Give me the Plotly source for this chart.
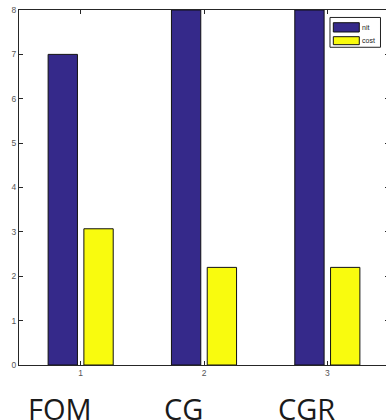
import plotly.graph_objects as go

groups = [1, 2, 3]
group_names = ["FOM", "CG", "CGR"]
series_names = ["nit", "cost"]
nit = [7, 8, 8]
cost = [3.07, 2.2, 2.2]
y_ticks = [0, 1, 2, 3, 4, 5, 6, 7, 8]
colors = ["#35298A", "#F9FB0E"]

fig = go.Figure()
for name, vals, col in zip(series_names, [nit, cost], colors):
    fig.add_trace(go.Bar(x=groups, y=vals, name=name, showlegend=False,
                         marker=dict(color=col, line=dict(color="#111111", width=1))))

# group labels below the axis
for g, name in zip(groups, group_names):
    fig.add_annotation(x=g - 0.17, xref="x", y=-0.1236, yref="paper",
                       text=name, showarrow=False, yanchor="middle", xanchor="center",
                       font=dict(family="Open Sans", size=29, color="#1a1a1a"))

# compact legend box (MATLAB style)
fig.add_shape(type="rect", xref="paper", yref="paper", x0=0.8405, x1=0.9770, y0=0.895, y1=0.979,
              line=dict(color="#222222", width=1), fillcolor="white", layer="above")
legend_rows = [(0.938, 0.9642, 0.951), (0.9023, 0.9248, 0.9135)]
for (y0, y1, yc), name, col in zip(legend_rows, series_names, colors):
    fig.add_shape(type="rect", xref="paper", yref="paper", x0=0.8495, x1=0.9197, y0=y0, y1=y1,
                  line=dict(color="#111111", width=1), fillcolor=col, layer="above")
    fig.add_annotation(x=0.9225, xref="paper", y=yc, yref="paper", text=name, showarrow=False,
                       xanchor="left", yanchor="middle",
                       font=dict(family="Liberation Sans", size=7, color="#222222"))

axis_common = dict(showline=True, linecolor="#262626", linewidth=1, mirror="ticks",
                   ticks="inside", ticklen=4, tickcolor="#262626", showgrid=False,
                   zeroline=False, ticklabeloverflow="allow", automargin=False,
                   tickfont=dict(family="Liberation Sans", size=8.5, color="#555555"))

fig.update_layout(
    width=389, height=420,
    margin=dict(l=19, r=0, t=10, b=55, autoexpand=False),
    paper_bgcolor="white", plot_bgcolor="white",
    barmode="group", bargap=0.42, bargroupgap=0.18,
    showlegend=False,
    xaxis=dict(range=[0.5, 3.5], tickvals=groups, ticktext=[str(g) for g in groups], **axis_common),
    yaxis=dict(range=[0, 8], tickvals=y_ticks, **axis_common),
)

fig.write_html("out.html", config={"displayModeBar": False},
               post_script="document.body.style.margin='0';document.body.style.overflow='hidden';")
